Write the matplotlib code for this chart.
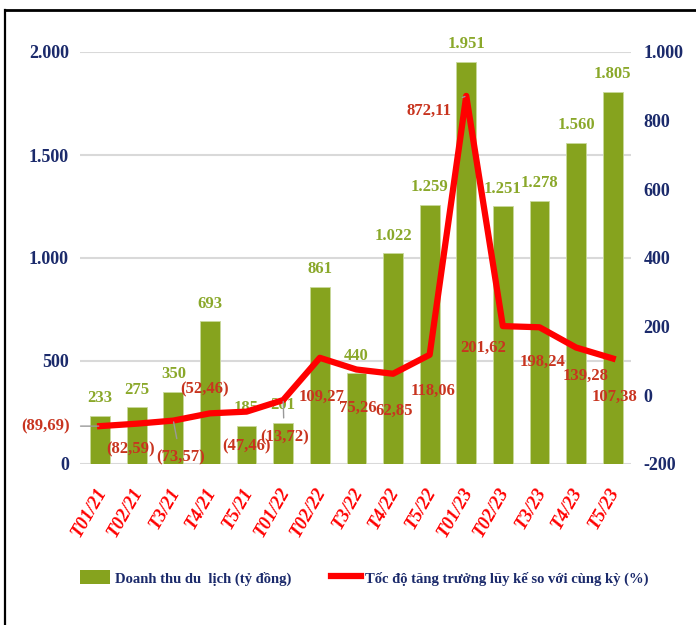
import numpy as np
import matplotlib.pyplot as plt
from matplotlib.lines import Line2D
from matplotlib.patches import Patch
from matplotlib.transforms import ScaledTranslation

plt.rcParams['font.family'] = ['Liberation Serif', 'DejaVu Serif']
plt.rcParams['font.weight'] = 'bold'

months = ["T01/21", "T02/21", "T3/21", "T4/21", "T5/21", "T01/22", "T02/22", "T3/22",
          "T4/22", "T5/22", "T01/23", "T02/23", "T3/23", "T4/23", "T5/23"]
revenue = [233, 275, 350, 693, 185, 201, 861, 440, 1022, 1259, 1951, 1251, 1278, 1560, 1805]
growth = [-89.69, -82.59, -73.57, -52.46, -47.46, -13.72, 109.27, 75.26, 62.85, 118.06,
          872.11, 201.62, 198.24, 139.28, 107.38]

navy = '#1B2A6B'
olive = '#86A31E'
olive_txt = '#8AA82A'
red = '#FF0000'
label_red = '#C8341F'

# label offsets for the growth labels (pixels, from the point)
lab_dx = [-55, -6, 7, -5, 0, 1, 2, 1, 1, 3, -37, -20, 3, 9, 2]
lab_dy = [0, -26, -37, 24, -35, -37, -39, -38, -37, -36, -15, -22, -35, -28, -38]


def fmt_thousand(v):
    return f"{int(v):,}".replace(",", ".")


def fmt_pct(v):
    s = f"{abs(v):.2f}".replace(".", ",")
    return f"({s})" if v < 0 else s


fig = plt.figure(figsize=(6.96, 6.25), dpi=100)
ax = fig.add_axes([80 / 696, 1 - 464 / 625, 551 / 696, 412 / 625])
ax2 = ax.twinx()

x = np.arange(len(months))
ax.bar(x, revenue, width=0.54, color=olive, edgecolor='#C9D99C', linewidth=0.6, zorder=2)
ax.set_ylim(0, 2000)
ax.set_xlim(-0.55, 14.5)
ax.set_yticks([0, 500, 1000, 1500, 2000])
ax.set_yticklabels([fmt_thousand(v) for v in [0, 500, 1000, 1500, 2000]])
ax.yaxis.grid(True, color='#D9D9D9', linewidth=1.5, zorder=0)
ax.set_axisbelow(True)
for sp in ax.spines.values():
    sp.set_visible(False)
for sp in ax2.spines.values():
    sp.set_visible(False)
ax.tick_params(axis='y', length=0, pad=8, labelsize=13, labelcolor=navy)
ax.set_xticks(x)
ax.set_xticklabels(months, rotation=60, ha='right', rotation_mode='anchor',
                   color=red, fontstyle='italic', fontsize=13.5)
ax.tick_params(axis='x', length=0, pad=15)
for lbl in ax.get_xticklabels():
    lbl.set_transform(lbl.get_transform() + ScaledTranslation(-0.05, 0, fig.dpi_scale_trans))

for i, v in enumerate(revenue):
    ax.annotate(fmt_thousand(v), (x[i], v), xytext=(0, 7), textcoords='offset points',
                ha='center', va='bottom', color=olive_txt, fontsize=12)

ax2.plot(x, growth, color=red, linewidth=4.5, zorder=3)
ax2.set_ylim(-200, 1000)
ax2.set_yticks([-200, 0, 200, 400, 600, 800, 1000])
ax2.set_yticklabels([fmt_thousand(v) for v in [-200, 0, 200, 400, 600, 800, 1000]])
ax2.tick_params(axis='y', length=0, pad=9, labelsize=13, labelcolor=navy)

leader = {0, 2, 5, 10}
for i, v in enumerate(growth):
    dx, dy = lab_dx[i] * 0.72, lab_dy[i] * 0.72
    props = dict(arrowstyle='-', color='#999999', lw=1, shrinkA=6, shrinkB=1) if i in leader else None
    ax2.annotate(fmt_pct(v), (x[i], v), xytext=(dx, dy), textcoords='offset points',
                 ha='center', va='center', color=label_red, fontsize=12,
                 arrowprops=props)

handles = [Patch(facecolor=olive, edgecolor='none'),
           Line2D([0], [0], color=red, linewidth=4.5)]
fig.legend(handles, ["Doanh thu du  lịch (tỷ đồng)", "Tốc độ tăng trưởng lũy kế so với cùng kỳ (%)"],
           loc='center', bbox_to_anchor=(0.524, 1 - 578 / 625), ncol=2, frameon=False,
           fontsize=10.5, labelcolor=navy, handlelength=2.05, handleheight=1.1,
           handletextpad=0.3, columnspacing=2.75)

# outer frame (left and top edges)
fig.add_artist(Line2D([5 / 696, 5 / 696], [0, 1 - 10 / 625], color='black', linewidth=1.6))
fig.add_artist(Line2D([5 / 696, 1], [1 - 10 / 625, 1 - 10 / 625], color='black', linewidth=2))

fig.savefig('out.png', dpi=100)
